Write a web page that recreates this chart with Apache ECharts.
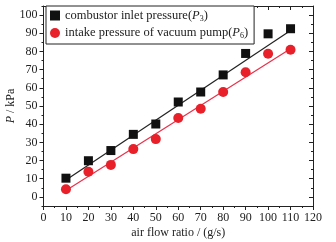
<!DOCTYPE html>
<html>
<head>
<meta charset="utf-8">
<script src="https://cdn.jsdelivr.net/npm/echarts@6/dist/echarts.min.js"></script>
<style>html,body{margin:0;padding:0;background:#fff}#c{width:336px;height:242px}</style>
</head>
<body>
<div id="c"></div>
<script>
var airFlow = [10, 20, 30, 40, 50, 60, 70, 80, 90, 100, 110];
var p3Values = [10.3, 19.9, 25.5, 34.4, 40.1, 52.2, 57.7, 67.1, 78.9, 89.7, 92.5];
var p6Values = [4.2, 13.8, 17.6, 26.3, 31.8, 43.4, 48.5, 57.7, 68.6, 78.7, 80.9];
var p3Fit = [[10, 9.3], [110, 91.5]];
var p6Fit = [[10, 3.5], [110, 81.5]];
var yMajorTicks = [0, 10, 20, 30, 40, 50, 60, 70, 80, 90, 100];
var seriesNames = ['combustor inlet pressure(P3)', 'intake pressure of vacuum pump(P6)'];
var xName = 'air flow ratio / (g/s)';

var FONT = 'Liberation Serif';
var chart = echarts.init(document.getElementById('c'), null, {renderer: 'canvas'});
function pairs(xs, ys) { return xs.map(function (x, i) { return [x, ys[i]]; }); }
var lineStyleAxis = {color: '#222', width: 1};
var labelStyle = {fontFamily: FONT, fontSize: 12, color: '#222'};

function xAx(pos, inside, showLabel) {
  return {
    type: 'value', position: pos, min: 0, max: 120, interval: 10,
    axisLine: {show: true, onZero: false, lineStyle: lineStyleAxis},
    axisTick: {show: true, inside: inside, length: 4, lineStyle: lineStyleAxis},
    minorTick: {show: true, splitNumber: 2, length: 2, lineStyle: lineStyleAxis},
    axisLabel: Object.assign({show: showLabel, margin: 6}, labelStyle),
    splitLine: {show: false}
  };
}
function yAx(pos, inside, major) {
  var ax = {
    type: 'value', position: pos, min: -5, max: 105,
    axisLine: {show: major, onZero: false, lineStyle: lineStyleAxis},
    splitLine: {show: false}
  };
  if (major) {
    ax.axisTick = {show: true, inside: inside, length: 4, customValues: yMajorTicks, lineStyle: lineStyleAxis};
    ax.axisLabel = Object.assign({show: pos === 'left', margin: 6, customValues: yMajorTicks}, labelStyle);
  } else {
    ax.interval = 5;
    ax.axisTick = {show: true, inside: inside, length: 2, lineStyle: lineStyleAxis};
    ax.axisLabel = {show: false};
  }
  return ax;
}

var xBottom = xAx('bottom', false, true);
xBottom.name = xName;
xBottom.nameLocation = 'middle';
xBottom.nameGap = 21;
xBottom.nameMoveOverlap = false;
xBottom.nameTextStyle = {fontFamily: FONT, fontSize: 12, color: '#222'};

var yLeft = yAx('left', false, true);
yLeft.name = '{i|P} / kPa';
yLeft.nameLocation = 'middle';
yLeft.nameGap = 27;
yLeft.nameMoveOverlap = false;
yLeft.nameTextStyle = {fontFamily: FONT, fontSize: 12, color: '#222',
  rich: {i: {fontFamily: FONT, fontSize: 12, fontStyle: 'italic', color: '#222'}}};

var rich = {
  t: {fontFamily: FONT, fontSize: 12.5, color: '#222'},
  i: {fontFamily: FONT, fontSize: 12.5, fontStyle: 'italic', color: '#222'},
  s: {fontFamily: FONT, fontSize: 8, color: '#222', verticalAlign: 'bottom', padding: [6, 0, 0, 0]}
};
function legendFmt(name) {
  var m = name.match(/^(.*)\((P)(\d)\)$/);
  return '{t|' + m[1] + '(}{i|' + m[2] + '}{s|' + m[3] + '}{t|)}';
}

chart.setOption({
  animation: false,
  backgroundColor: '#fff',
  grid: {left: 43.5, right: 23, top: 6, bottom: 36, containLabel: false, outerBoundsMode: 'none'},
  xAxis: [xBottom, xAx('top', true, false)],
  yAxis: [yLeft, yAx('left', false, false), yAx('right', true, true), yAx('right', true, false)],
  legend: {
    orient: 'vertical', left: 46, top: 6,
    data: [{name: seriesNames[0], icon: 'rect'}, {name: seriesNames[1], icon: 'circle'}],
    itemWidth: 10, itemHeight: 10, itemGap: 4,
    padding: [3, 6, 4, 4],
    borderColor: '#222', borderWidth: 1, backgroundColor: '#fff',
    formatter: legendFmt,
    textStyle: {fontFamily: FONT, fontSize: 12.5, color: '#222', rich: rich}
  },
  series: [
    {type: 'line', data: p3Fit, showSymbol: false, symbol: 'none', lineStyle: {color: '#222', width: 1.2}, silent: true, z: 1},
    {type: 'line', data: p6Fit, showSymbol: false, symbol: 'none', lineStyle: {color: '#e8304a', width: 1.2}, silent: true, z: 1},
    {name: seriesNames[0], type: 'scatter', symbol: 'rect', symbolSize: 9, data: pairs(airFlow, p3Values), itemStyle: {color: '#111', opacity: 1}, z: 3},
    {name: seriesNames[1], type: 'scatter', symbol: 'circle', symbolSize: 10, data: pairs(airFlow, p6Values), itemStyle: {color: '#e8202a', opacity: 1}, z: 3}
  ]
});
</script>
</body>
</html>
